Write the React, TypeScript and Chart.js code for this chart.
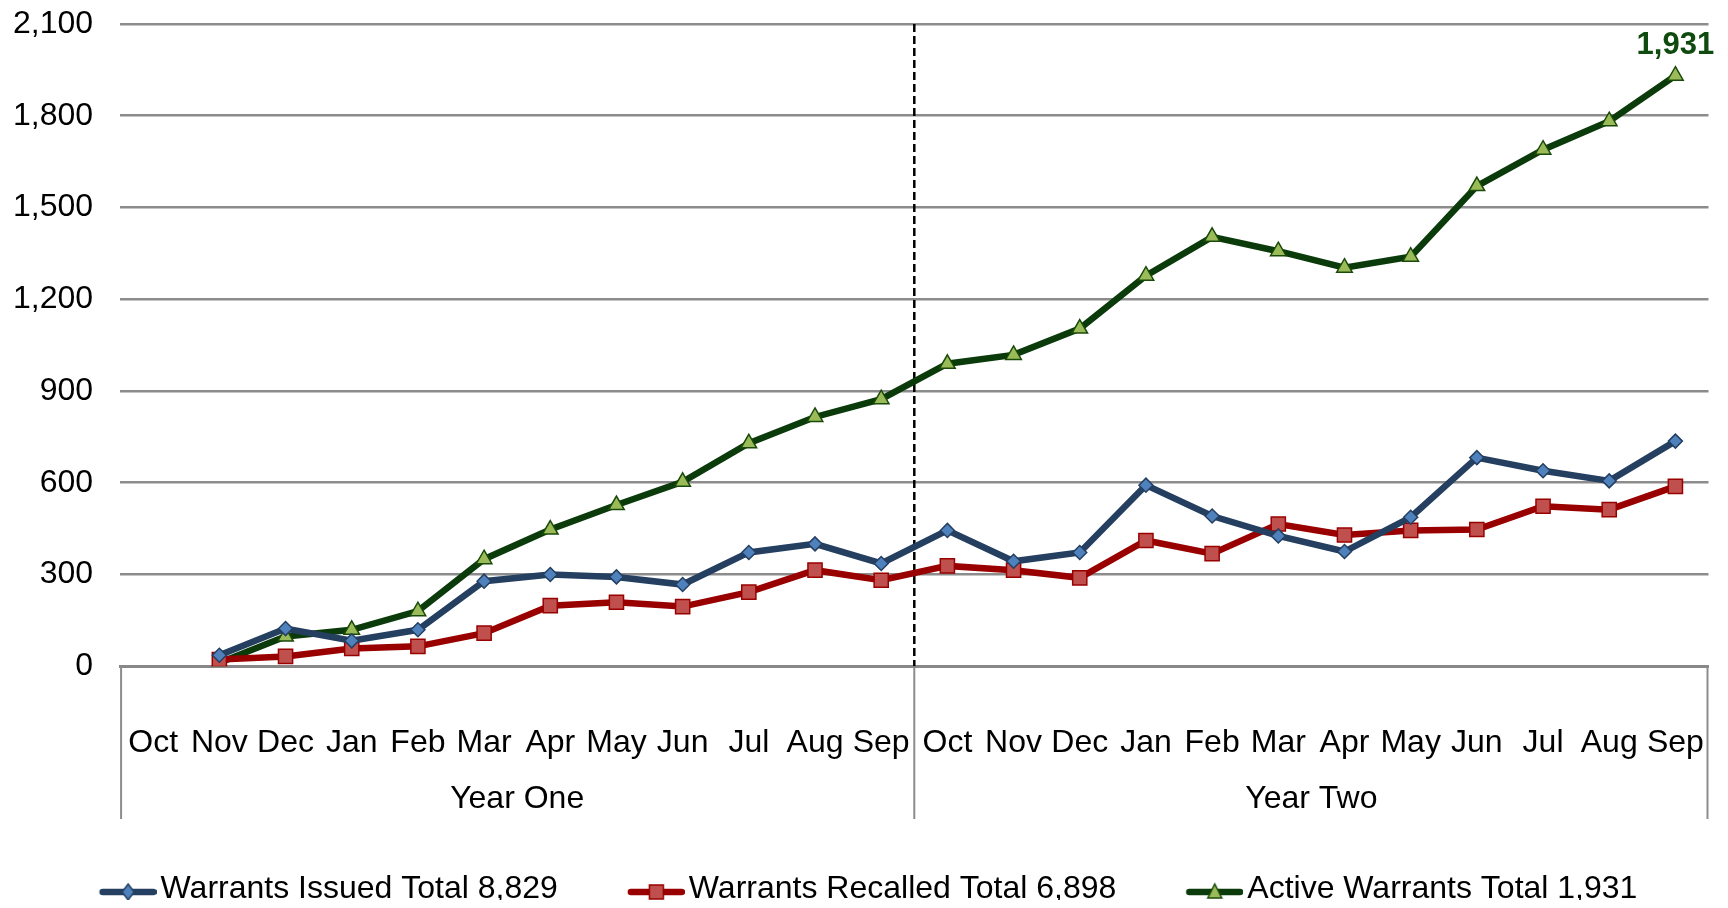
import React, { useEffect, useRef } from "react";
import { Chart, registerables } from "chart.js";

Chart.register(...registerables);

const months = ["Oct", "Nov", "Dec", "Jan", "Feb", "Mar", "Apr", "May", "Jun", "Jul", "Aug", "Sep"];
const categories = [...months, ...months];
const years = ["Year One", "Year Two"];

const issued = [null, 36, 123, 83, 119, 278, 300, 292, 267, 372, 400, 336, 444, 343, 372, 592, 491, 426, 375, 487, 682, 639, 606, 736];
const recalled = [null, 22, 32, 58, 65, 108, 198, 209, 195, 242, 314, 281, 328, 314, 289, 411, 368, 465, 429, 444, 447, 523, 512, 588];
const active = [null, 11, 97, 119, 180, 350, 447, 527, 603, 729, 815, 873, 989, 1018, 1104, 1277, 1404, 1357, 1303, 1339, 1570, 1689, 1782, 1931];

const seriesNames = ["Warrants Issued Total 8,829", "Warrants Recalled Total 6,898", "Active Warrants Total 1,931"];
const finalLabel = "1,931";

const yMin = 0;
const yMax = 2100;
const yStep = 300;

const FONT = "'Liberation Sans', Arial, sans-serif";

const styles = [
  { line: "#243f60", fill: "#4f81bd", border: "#243f60", point: "rectRot", radius: 7 },
  { line: "#990000", fill: "#c0504d", border: "#990000", point: "rect", radius: 10 },
  { line: "#0b3b0b", fill: "#9bbb59", border: "#1a4a0a", point: "triangle", radius: 9 },
];

function legendImage(i: number): HTMLCanvasElement {
  const s = styles[i];
  const c = document.createElement("canvas");
  c.width = 84;
  c.height = 30;
  const ctx = c.getContext("2d")!;
  const cy = 18;
  ctx.strokeStyle = s.line;
  ctx.lineWidth = 6.5;
  ctx.lineCap = "round";
  ctx.beginPath();
  ctx.moveTo(30, cy);
  ctx.lineTo(81, cy);
  ctx.stroke();
  ctx.fillStyle = s.fill;
  ctx.strokeStyle = s.border;
  ctx.lineWidth = 1.5;
  ctx.beginPath();
  const cx = 55.5;
  if (s.point === "rectRot") {
    ctx.moveTo(cx, cy - 8);
    ctx.lineTo(cx + 6, cy);
    ctx.lineTo(cx, cy + 8);
    ctx.lineTo(cx - 6, cy);
  } else if (s.point === "rect") {
    ctx.rect(cx - 7, cy - 7, 14, 14);
  } else {
    ctx.moveTo(cx, cy - 8);
    ctx.lineTo(cx + 7, cy + 6);
    ctx.lineTo(cx - 7, cy + 6);
  }
  ctx.closePath();
  ctx.fill();
  ctx.stroke();
  return c;
}

const decorPlugin = {
  id: "decor",
  beforeDatasetsDraw(chart: any) {
    const { ctx, chartArea } = chart;
    const x = chart.scales.x;
    const mid = (x.getPixelForValue(11) + x.getPixelForValue(12)) / 2;
    ctx.save();
    ctx.strokeStyle = "#000";
    ctx.lineWidth = 2.5;
    ctx.setLineDash([8, 4]);
    ctx.beginPath();
    ctx.moveTo(mid, chartArea.top);
    ctx.lineTo(mid, chartArea.bottom);
    ctx.stroke();
    ctx.restore();
  },
  afterDraw(chart: any) {
    const { ctx, chartArea } = chart;
    const x = chart.scales.x;
    const x2 = chart.scales.x2;
    const mid = (x.getPixelForValue(11) + x.getPixelForValue(12)) / 2;
    ctx.save();
    ctx.strokeStyle = "#8c8c8c";
    ctx.lineWidth = 2;
    [chartArea.left + 1, mid, chartArea.right - 1].forEach((px) => {
      ctx.beginPath();
      ctx.moveTo(px, chartArea.bottom);
      ctx.lineTo(px, x2.bottom + 1);
      ctx.stroke();
    });
    const meta = chart.getDatasetMeta(2);
    const last = meta.data[meta.data.length - 1];
    ctx.fillStyle = "#0f4a0f";
    ctx.font = `bold 31px ${FONT}`;
    ctx.textAlign = "center";
    ctx.textBaseline = "middle";
    ctx.fillText(finalLabel, last.x, last.y - 30);
    ctx.restore();
  },
};

const hiddenGrid = (len: number) => ({
  display: true,
  drawOnChartArea: false,
  drawTicks: true,
  tickLength: len,
  color: "rgba(0,0,0,0)",
  tickColor: "rgba(0,0,0,0)",
});

export default function App() {
  const ref = useRef<HTMLCanvasElement>(null);
  useEffect(() => {
    if (!ref.current) return;
    const seriesData = [issued, recalled, active];
    const chart = new Chart(ref.current, {
      type: "line",
      data: {
        labels: categories,
        datasets: seriesData.map((d, i) => ({
          label: seriesNames[i],
          data: d,
          borderColor: styles[i].line,
          backgroundColor: styles[i].fill,
          borderWidth: 6.5,
          pointStyle: styles[i].point as any,
          pointRadius: styles[i].radius,
          pointBackgroundColor: styles[i].fill,
          pointBorderColor: styles[i].border,
          pointBorderWidth: 1.5,
          tension: 0,
          xAxisID: "x",
        })),
      },
      options: {
        animation: false,
        responsive: false,
        layout: { padding: { left: 5, right: 11, top: 16, bottom: -7 } },
        plugins: {
          tooltip: { enabled: false },
          legend: {
            position: "bottom",
            labels: {
              usePointStyle: true,
              pointStyleWidth: 60,
              boxHeight: 20,
              padding: 55,
              color: "#000",
              font: { family: FONT, size: 32 },
              generateLabels: (ch: any) => {
                const base = Chart.defaults.plugins.legend.labels.generateLabels(ch);
                return base.map((l: any, i: number) => ({ ...l, pointStyle: legendImage(i) }));
              },
            },
          },
        },
        scales: {
          x: {
            type: "category",
            offset: true,
            grid: hiddenGrid(58),
            border: { display: true, color: "#888888", width: 3 },
            ticks: {
              autoSkip: false,
              maxRotation: 0,
              minRotation: 0,
              padding: 0,
              color: "#000",
              font: { family: FONT, size: 32 },
            },
          },
          x2: {
            type: "category",
            labels: years,
            offset: true,
            position: "bottom",
            grid: hiddenGrid(17),
            border: { display: false },
            ticks: {
              maxRotation: 0,
              padding: 0,
              color: "#000",
              font: { family: FONT, size: 32 },
            },
          },
          y: {
            min: yMin,
            max: yMax,
            ticks: {
              stepSize: yStep,
              padding: 0,
              color: "#000",
              font: { family: FONT, size: 32, lineHeight: 1 },
              callback: (v: any) => Number(v).toLocaleString("en-US"),
            },
            grid: { color: "#8c8c8c", lineWidth: 2.5, drawTicks: true, tickLength: 27, tickColor: "rgba(0,0,0,0)" },
            border: { display: false },
          },
        },
      },
      plugins: [decorPlugin],
    });
    return () => chart.destroy();
  }, []);
  return <canvas ref={ref} width={1712} height={900} style={{ display: "block", marginBottom: -8 }} />;
}
